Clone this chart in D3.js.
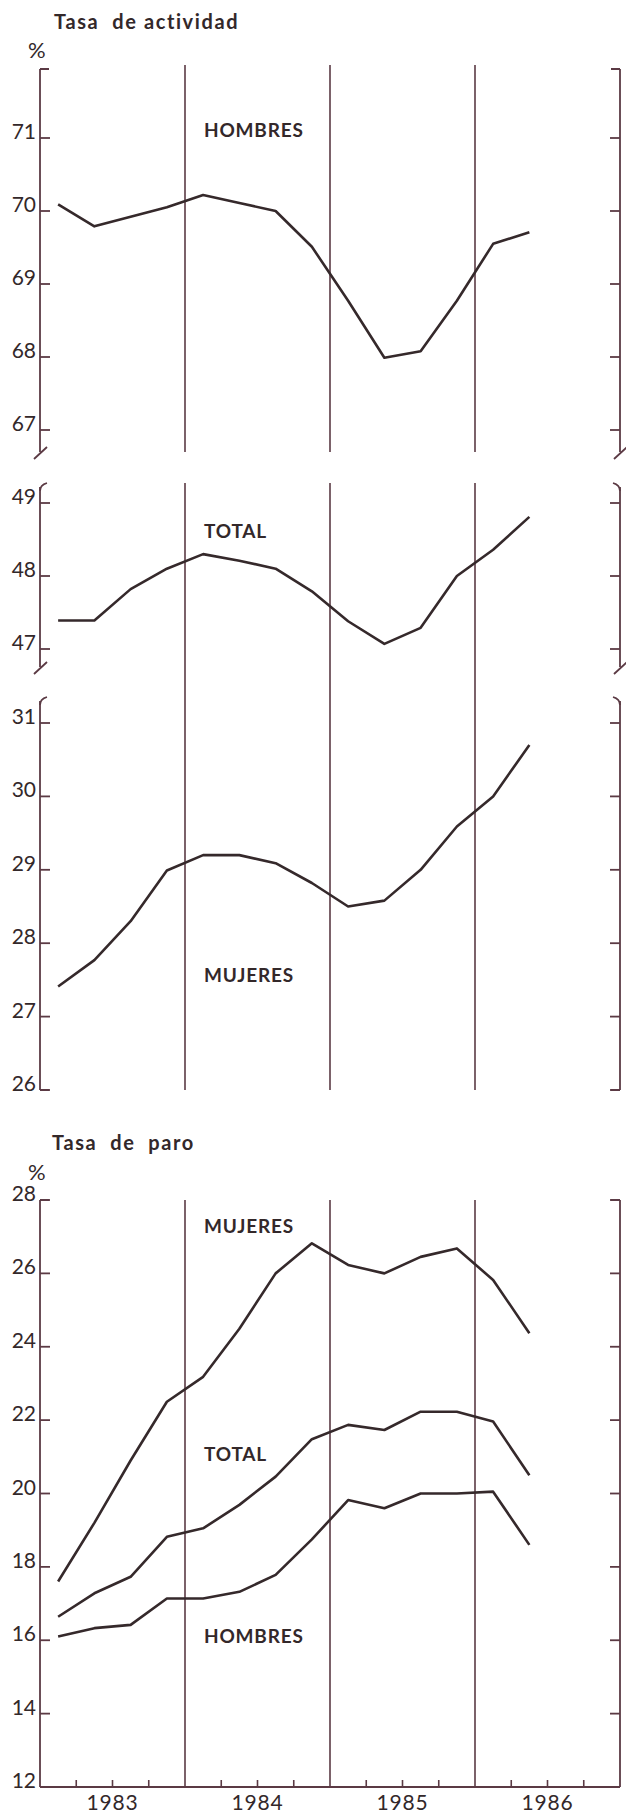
<!DOCTYPE html>
<html>
<head>
<meta charset="utf-8">
<script src="https://cdn.jsdelivr.net/npm/d3@7"></script>
<style>
  body { margin: 0; background: #fff; }
  svg { display: block; }
  .lbl { font-family: Lato, "DejaVu Sans", sans-serif; fill: #33282a; }
</style>
</head>
<body>
<div id="vis"></div>
<script>
// quarters (data points sit in the middle of each quarter)
var quarters = ["1983-1","1983-2","1983-3","1983-4","1984-1","1984-2","1984-3","1984-4",
                "1985-1","1985-2","1985-3","1985-4","1986-1","1986-2"];
var years = [1983, 1984, 1985, 1986];

// Tasa de actividad
var actHombres = [70.09, 69.79, 69.92, 70.05, 70.22, 70.11, 70.0, 69.51, 68.77, 67.99, 68.08, 68.77, 69.55, 69.71];
var actTotal   = [47.39, 47.39, 47.82, 48.10, 48.30, 48.21, 48.10, 47.79, 47.38, 47.07, 47.29, 48.0, 48.36, 48.81];
var actMujeres = [27.41, 27.77, 28.30, 28.99, 29.20, 29.20, 29.09, 28.82, 28.50, 28.58, 29.0, 29.59, 30.0, 30.70];

// Tasa de paro
var paroMujeres = [17.60, 19.2, 20.9, 22.50, 23.18, 24.49, 26.0, 26.82, 26.23, 26.0, 26.45, 26.68, 25.82, 24.37];
var paroTotal   = [16.64, 17.28, 17.73, 18.82, 19.05, 19.69, 20.46, 21.48, 21.87, 21.73, 22.23, 22.23, 21.96, 20.5];
var paroHombres = [16.10, 16.33, 16.42, 17.14, 17.14, 17.32, 17.78, 18.75, 19.82, 19.60, 20.0, 20.0, 20.05, 18.60];

var ticksActHombres = [67, 68, 69, 70, 71];
var ticksActTotal   = [47, 48, 49];
var ticksActMujeres = [26, 27, 28, 29, 30, 31];
var ticksParo       = [12, 14, 16, 18, 20, 22, 24, 26, 28];

var W = 626, H = 1813;
var axisCol = "#5b3a44", lineCol = "#35292b";

var svg = d3.select("#vis").append("svg")
  .attr("width", W).attr("height", H);

var x = d3.scaleLinear().domain([1983, 1987]).range([40, 620]);
function qPos(q) {
  var p = q.split("-");
  return +p[0] + (+p[1] - 0.5) / 4;
}

// year separators
[[65, 452], [483, 1090], [1200, 1787]].forEach(function(seg) {
  svg.selectAll(null).data(years.slice(1)).enter().append("line")
    .attr("x1", function(d) { return x(d); }).attr("x2", function(d) { return x(d); })
    .attr("y1", seg[0]).attr("y2", seg[1])
    .attr("stroke", axisCol).attr("stroke-width", 1.6);
});

var panels = [
  { ticks: ticksActHombres, domain: [67, 71], range: [430, 138], top: 69, bottom: 452,
    topStyle: "corner", bottomStyle: "break",
    series: [actHombres], labels: [["HOMBRES", 137]] },
  { ticks: ticksActTotal, domain: [47, 49], range: [649, 503], top: 487, bottom: 667,
    topStyle: "curl", bottomStyle: "break",
    series: [actTotal], labels: [["TOTAL", 538]] },
  { ticks: ticksActMujeres, domain: [26, 31], range: [1090, 723], top: 701, bottom: 1090,
    topStyle: "curl", bottomStyle: "foot",
    series: [actMujeres], labels: [["MUJERES", 982]] },
  { ticks: ticksParo, domain: [12, 28], range: [1787, 1200], top: 1200, bottom: 1787,
    topStyle: "corner", bottomStyle: "none",
    series: [paroMujeres, paroTotal, paroHombres],
    labels: [["MUJERES", 1233], ["TOTAL", 1461], ["HOMBRES", 1643]] }
];

var xl = x.range()[0], xr = x.range()[1];

panels.forEach(function(p) {
  var y = d3.scaleLinear().domain(p.domain).range(p.range);
  var g = svg.append("g");

  // left & right axes
  [xl, xr].forEach(function(ax, i) {
    var dir = i == 0 ? 1 : -1;
    g.append("line").attr("x1", ax).attr("x2", ax)
      .attr("y1", p.top).attr("y2", p.bottom)
      .attr("stroke", axisCol).attr("stroke-width", 1.8);
    g.selectAll(null).data(p.ticks).enter().append("line")
      .attr("x1", ax).attr("x2", ax + dir * 10)
      .attr("y1", function(d) { return y(d); }).attr("y2", function(d) { return y(d); })
      .attr("stroke", axisCol).attr("stroke-width", 1.8);

    var path = d3.path();
    if (p.topStyle == "corner") {
      path.moveTo(ax, p.top); path.lineTo(ax + dir * 9, p.top);
    } else if (p.topStyle == "curl") {
      path.moveTo(ax, p.top + 4); path.quadraticCurveTo(ax, p.top - 2, ax + dir * 7, p.top - 4);
    }
    if (p.bottomStyle == "break") {
      path.moveTo(ax - 6, p.bottom + 7); path.lineTo(ax + 7, p.bottom - 5);
    } else if (p.bottomStyle == "foot") {
      path.moveTo(ax, p.bottom); path.lineTo(ax + dir * 9, p.bottom);
    }
    g.append("path").attr("d", path.toString())
      .attr("fill", "none").attr("stroke", axisCol).attr("stroke-width", 1.8);
  });

  // tick labels
  g.selectAll(null).data(p.ticks).enter().append("text")
    .attr("class", "lbl")
    .attr("x", xl - 4).attr("y", function(d) { return y(d) + 1; })
    .attr("text-anchor", "end")
    .attr("font-size", "21px")
    .text(function(d) { return d; });

  // series
  var line = d3.line()
    .x(function(d, i) { return x(qPos(quarters[i])); })
    .y(function(d) { return y(d); });
  p.series.forEach(function(s) {
    g.append("path").datum(s)
      .attr("d", line)
      .attr("fill", "none").attr("stroke", lineCol)
      .attr("stroke-width", 2.6).attr("stroke-linejoin", "round");
  });

  p.labels.forEach(function(l) {
    g.append("text").attr("class", "lbl")
      .attr("x", 204).attr("y", l[1])
      .attr("font-size", "19px").attr("font-weight", "bold")
      .attr("letter-spacing", "0.8px")
      .text(l[0]);
  });
});

// bottom time axis
var gx = svg.append("g");
gx.append("line").attr("x1", xl).attr("x2", xr).attr("y1", 1787).attr("y2", 1787)
  .attr("stroke", axisCol).attr("stroke-width", 1.8);
var qTicks = [];
years.forEach(function(yr) { [0.25, 0.5, 0.75].forEach(function(f) { qTicks.push(yr + f); }); });
gx.selectAll(null).data(qTicks).enter().append("line")
  .attr("x1", function(d) { return x(d); }).attr("x2", function(d) { return x(d); })
  .attr("y1", 1787).attr("y2", 1780)
  .attr("stroke", axisCol).attr("stroke-width", 1.6);
gx.selectAll(null).data(years).enter().append("text")
  .attr("class", "lbl")
  .attr("x", function(d) { return x(d + 0.5); }).attr("y", 1810)
  .attr("text-anchor", "middle").attr("font-size", "21px").attr("letter-spacing", "0.8px")
  .text(function(d) { return d; });

// titles
svg.append("text").attr("class", "lbl").attr("x", 54).attr("y", 29)
  .attr("font-size", "20px").attr("font-weight", "bold").attr("letter-spacing", "1.6px")
  .attr("xml:space", "preserve").text("Tasa  de actividad");
svg.append("text").attr("class", "lbl").attr("x", 28).attr("y", 58)
  .attr("font-size", "22px").text("%");
svg.append("text").attr("class", "lbl").attr("x", 52).attr("y", 1150)
  .attr("font-size", "20px").attr("font-weight", "bold").attr("letter-spacing", "1.6px")
  .attr("xml:space", "preserve").text("Tasa  de  paro");
svg.append("text").attr("class", "lbl").attr("x", 28).attr("y", 1180)
  .attr("font-size", "22px").text("%");
</script>
</body>
</html>
